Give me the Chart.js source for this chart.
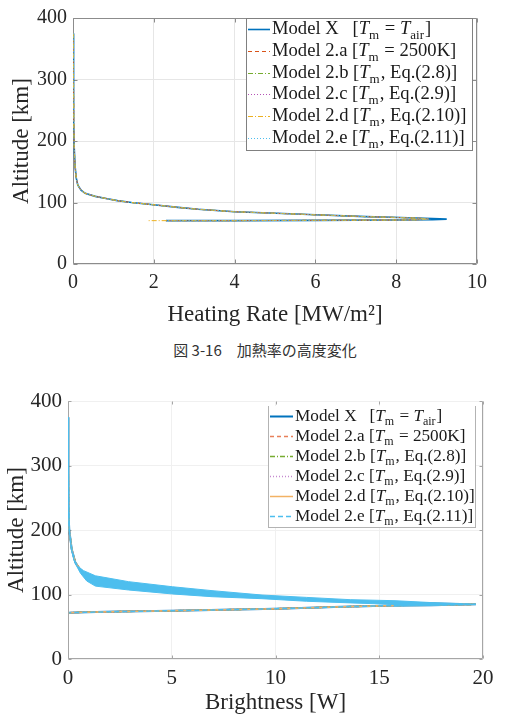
<!DOCTYPE html>
<html>
<head>
<meta charset="utf-8">
<script src="https://cdn.jsdelivr.net/npm/chart.js@4.4.1/dist/chart.umd.min.js"></script>
<style>
  html, body { margin: 0; padding: 0; background: #fff; }
  #wrap { position: relative; width: 509px; height: 720px; }
  #c1 { position: absolute; left: 0; top: 0; }
  #c2 { position: absolute; left: 0; top: 365px; }
  #cap { position: absolute; left: 0; top: 340px; width: 530px; text-align: center;
         font: 15px "Noto Sans CJK JP", sans-serif; color: #333; line-height: 20px; }
</style>
</head>
<body>
<div id="wrap">
  <canvas id="c1" width="509" height="330"></canvas>
  <div id="cap">図 3-16　加熱率の高度変化</div>
  <canvas id="c2" width="509" height="355"></canvas>
</div>
<script>
// legend labels (T_xx is drawn as italic T with a subscript)
const modelLabels = [
  'Model X   [T_m = T_air]',
  'Model 2.a [T_m = 2500K]',
  'Model 2.b [T_m, Eq.(2.8)]',
  'Model 2.c [T_m, Eq.(2.9)]',
  'Model 2.d [T_m, Eq.(2.10)]',
  'Model 2.e [T_m, Eq.(2.11)]'
];

// Heating rate chart: altitude [km] along the trajectory, heating rate [MW/m2]
const altHeat = [375, 330, 280, 230, 190, 160, 140, 128, 120, 115, 110, 106, 103, 100, 96, 92, 89, 85, 82, 80, 77, 75.5, 74, 73, 72, 71.5, 71, 70.5, 70.5];
const heatX   = [0.01, 0.01, 0.015, 0.02, 0.03, 0.05, 0.08, 0.12, 0.2, 0.3, 0.55, 0.85, 1.1, 1.45, 2.05, 2.6, 3.1, 4.0, 5.2, 6.0, 7.25, 8.1, 8.9, 9.25, 8.9, 8.0, 6.0, 4.0, 2.3];
const heat2   = [0.01, 0.01, 0.015, 0.02, 0.03, 0.05, 0.08, 0.12, 0.2, 0.3, 0.55, 0.85, 1.1, 1.45, 2.05, 2.6, 3.1, 4.0, 5.2, 6.0, 7.25, 8.1, 8.7, 8.8, 8.6, 8.0, 6.0, 4.0, 2.3];
const heat2d  = [0.01, 0.01, 0.015, 0.02, 0.03, 0.05, 0.08, 0.12, 0.2, 0.3, 0.55, 0.85, 1.1, 1.45, 2.05, 2.6, 3.1, 4.0, 5.2, 6.0, 7.25, 8.1, 8.7, 8.8, 8.6, 8.0, 6.0, 4.0, 1.85];
const heatTicks = { min: 0, max: 10, step: 2 };
const altTicks  = { min: 0, max: 400, step: 100 };

// Brightness chart: centre line of the curves and the outline of the spread band
const altBright = [375, 300, 230, 200, 170, 150, 138, 128, 121, 113, 106, 101, 96, 92.5, 89.5, 87.5, 86, 84.8, 83.5, 83, 80.5, 78, 76.4, 74.9, 73.5, 72.5, 71.8];
const brightX   = [0, 0.01, 0.03, 0.06, 0.18, 0.35, 0.6, 0.95, 1.32, 2.92, 5.04, 6.94, 9.35, 11.5, 13.6, 15.76, 17.5, 19.66, 17.5, 15.68, 12.8, 10.06, 7.5, 5.07, 2.5, 0.8, 0.06];
const bandAlt = [375, 300, 230, 200, 174, 155, 145, 137, 129, 119.9, 112, 106, 99.2, 95.5, 92, 90.4, 87.5, 84.8, 83, 82, 84.6, 87, 89.5, 93.5, 96.6, 100.8, 107, 113, 121, 133, 148, 168, 200, 300, 375];
const bandX   = [0, 0.01, 0.03, 0.06, 0.16, 0.27, 0.42, 0.75, 1.32, 2.92, 5.04, 6.94, 9.35, 11.5, 13.6, 15.76, 17.5, 19.66, 17.5, 15.7, 15.76, 13.6, 11.5, 9.35, 6.94, 5.04, 2.92, 1.32, 0.9, 0.6, 0.35, 0.17, 0.06, 0.02, 0];
const brightTicks = { min: 0, max: 20, step: 5 };

const pts = (xs, ys) => xs.map((x, i) => ({ x: x, y: ys[i] }));
const SERIF = '"Liberation Serif", "Times New Roman", serif';

function drawLabel(ctx, text, x, y, size) {
  ctx.textBaseline = 'middle';
  ctx.textAlign = 'left';
  ctx.fillStyle = '#1a1a1a';
  text.split(/(T_[a-z]+)/).forEach(p => {
    if (p.startsWith('T_')) {
      ctx.font = 'italic ' + size + 'px ' + SERIF;
      ctx.fillText('T', x, y);
      x += ctx.measureText('T').width;
      const sub = p.slice(2);
      ctx.font = Math.round(size * 0.7) + 'px ' + SERIF;
      ctx.fillText(sub, x, y + size * 0.3);
      x += ctx.measureText(sub).width + 1;
    } else {
      ctx.font = size + 'px ' + SERIF;
      ctx.fillText(p, x, y);
      x += ctx.measureText(p).width;
    }
  });
}

// legend drawn inside the plot, like matlab's "northeast" legend
const legendBox = {
  id: 'legendBox',
  afterDatasetsDraw(chart, args, o) {
    const ctx = chart.ctx;
    ctx.save();
    ctx.fillStyle = '#fff';
    ctx.fillRect(o.x, o.y, o.w, o.h);
    ctx.strokeStyle = o.border;
    ctx.lineWidth = 1;
    ctx.beginPath();
    o.sides.forEach(s => {
      if (s === 't') { ctx.moveTo(o.x, o.y + 0.5); ctx.lineTo(o.x + o.w, o.y + 0.5); }
      if (s === 'b') { ctx.moveTo(o.x, o.y + o.h - 0.5); ctx.lineTo(o.x + o.w, o.y + o.h - 0.5); }
      if (s === 'l') { ctx.moveTo(o.x + 0.5, o.y); ctx.lineTo(o.x + 0.5, o.y + o.h); }
      if (s === 'r') { ctx.moveTo(o.x + o.w - 0.5, o.y); ctx.lineTo(o.x + o.w - 0.5, o.y + o.h); }
    });
    ctx.stroke();
    let row = 0;
    chart.data.datasets.forEach(ds => {
      if (!ds.label) return;
      const cy = Math.round(o.y + o.first + row * o.rowH) + 0.5;
      ctx.save();
      ctx.setLineDash(ds.borderDash || []);
      ctx.strokeStyle = ds.borderColor;
      ctx.lineWidth = ds.borderWidth;
      ctx.beginPath();
      ctx.moveTo(o.x + o.line0, cy);
      ctx.lineTo(o.x + o.line1, cy);
      ctx.stroke();
      ctx.restore();
      drawLabel(ctx, ds.label, o.x + o.textX, cy, o.size);
      row++;
    });
    ctx.restore();
  }
};

// axes box with inward ticks
const frame = {
  id: 'frame',
  beforeDatasetsDraw(chart, args, o) {
    const { ctx, chartArea: a, scales } = chart;
    const L = Math.round(a.left) + 0.5, R = Math.round(a.right) - 0.5;
    const T = Math.round(a.top) + 0.5, B = Math.round(a.bottom) - 0.5;
    ctx.save();
    ctx.strokeStyle = o.color;
    ctx.lineWidth = 1;
    ctx.beginPath();
    ctx.moveTo(L, T); ctx.lineTo(L, B); ctx.lineTo(R, B);
    if (o.right) { ctx.moveTo(R, T); ctx.lineTo(R, B); }
    if (o.top) { ctx.moveTo(L, T); ctx.lineTo(R, T); }
    scales.x.ticks.forEach(t => {
      const px = Math.round(scales.x.getPixelForValue(t.value)) + 0.5;
      ctx.moveTo(px, B); ctx.lineTo(px, B - o.tick);
      ctx.moveTo(px, T); ctx.lineTo(px, T + o.tick);
    });
    scales.y.ticks.forEach(t => {
      const py = Math.round(scales.y.getPixelForValue(t.value)) + 0.5;
      ctx.moveTo(L, py); ctx.lineTo(L + o.tick, py);
      ctx.moveTo(R, py); ctx.lineTo(R - o.tick, py);
    });
    ctx.stroke();
    ctx.restore();
  }
};

function axisOpts(t, title, gridColor, tickSize, pad, titlePad, fitSize, horizontal) {
  return {
    type: 'linear',
    min: t.min,
    max: t.max,
    grid: { color: gridColor, drawTicks: false },
    border: { display: false },
    ticks: { stepSize: t.step, padding: pad, color: '#262626', maxRotation: 0,
             font: { family: SERIF, size: tickSize } },
    title: { display: true, text: title, color: '#262626', padding: titlePad,
             font: { family: SERIF, size: 23 } },
    afterFit: horizontal ? (s => { s.height = fitSize; }) : (s => { s.width = fitSize; })
  };
}

// Heating rate chart
const topColors = ['#0072BD', '#D95319', '#77AC30', '#B552B5', '#EDB120', '#4DBEEE'];
const topDash = [[], [4, 3], [5, 2, 1, 2], [1, 2], [5, 2, 1, 2], [1, 2]];
const topData = [heatX, heat2, heat2, heat2, heat2d, heat2];

new Chart(document.getElementById('c1'), {
  type: 'scatter',
  data: {
    datasets: modelLabels.map((label, i) => ({
      label: label,
      data: pts(topData[i], altHeat),
      showLine: true,
      borderColor: topColors[i],
      borderWidth: i === 0 ? 1.6 : 1,
      borderDash: topDash[i],
      pointRadius: 0,
      order: 6 - i
    }))
  },
  options: {
    responsive: false,
    animation: false,
    layout: { padding: { top: 13, right: 32, left: 0, bottom: 0 } },
    scales: {
      x: axisOpts(heatTicks, 'Heating Rate [MW/m²]', '#e6e6e6', 20, 7, { top: 0, bottom: 1 }, 66, true),
      y: axisOpts(altTicks, 'Altitude [km]', '#e6e6e6', 20, 6, { top: 8, bottom: 0 }, 73, false)
    },
    plugins: {
      legend: { display: false },
      tooltip: { enabled: false },
      frame: { color: '#8c8c8c', tick: 4, top: true, right: true },
      legendBox: { x: 246, y: 18, w: 227, h: 133, first: 11, rowH: 21.8, line0: 2, line1: 24,
                   textX: 26, size: 18.6, border: '#808080', sides: ['t', 'b', 'l', 'r'] }
    }
  },
  plugins: [frame, legendBox]
});

// Brightness chart
const botColors = ['#0072BD', '#E8805A', '#77AC30', '#C58AD0', '#F2B264', '#4DBEEE'];
const botDash = [[], [4, 3], [5, 2, 1, 2], [1, 2], [], [5, 3]];
const botDatasets = modelLabels.map((label, i) => ({
  label: label,
  data: pts(brightX, altBright),
  showLine: true,
  borderColor: botColors[i],
  borderWidth: i === 0 ? 2 : 1.5,
  borderDash: botDash[i],
  pointRadius: 0,
  order: 6 - i
}));
botDatasets.push({
  data: pts(bandX, bandAlt),
  showLine: true,
  borderColor: '#4DBEEE',
  backgroundColor: '#4DBEEE',
  borderWidth: 1,
  fill: 'shape',
  pointRadius: 0,
  order: 0
});

new Chart(document.getElementById('c2'), {
  type: 'scatter',
  data: { datasets: botDatasets },
  options: {
    responsive: false,
    animation: false,
    layout: { padding: { top: 36, right: 26, left: 0, bottom: 0 } },
    scales: {
      x: axisOpts(brightTicks, 'Brightness [W]', '#f0f0f0', 21, 7, { top: 0, bottom: 3 }, 61, true),
      y: axisOpts(altTicks, 'Altitude [km]', '#f0f0f0', 21, 6, { top: 3, bottom: 0 }, 68, false)
    },
    plugins: {
      legend: { display: false },
      tooltip: { enabled: false },
      filler: { propagate: false },
      frame: { color: '#a6a6a6', tick: 3, top: false, right: true },
      legendBox: { x: 268, y: 41, w: 208, h: 122, first: 10, rowH: 20, line0: 2, line1: 25,
                   textX: 27, size: 17.2, border: '#b3b3b3', sides: ['b', 'r', 'l'] }
    }
  },
  plugins: [frame, legendBox]
});
</script>
</body>
</html>
